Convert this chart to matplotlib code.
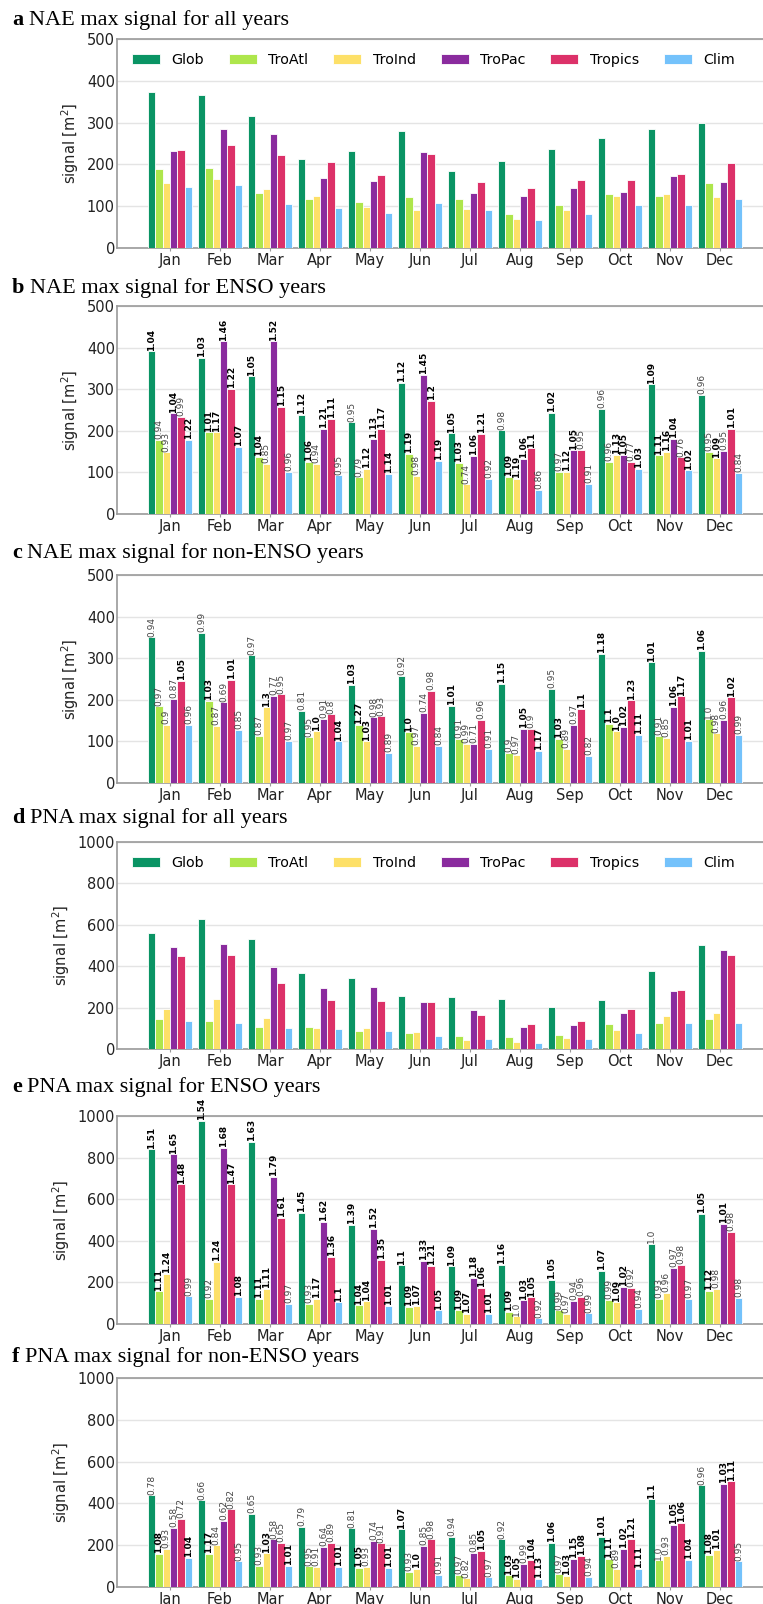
import matplotlib
matplotlib.use('Agg')
import matplotlib.pyplot as plt
import numpy as np

months = ['Jan', 'Feb', 'Mar', 'Apr', 'May', 'Jun', 'Jul', 'Aug', 'Sep', 'Oct', 'Nov', 'Dec']
regions = ['Glob', 'TroAtl', 'TroInd', 'TroPac', 'Tropics', 'Clim']
colors = ['#0a9464', '#aee64c', '#fde068', '#8a2b9e', '#dc3169', '#74c2fb']

# ---- NAE, all years (panel a) ----
nae_all = [
    [374, 365, 315, 212, 231, 280, 184, 207, 237, 264, 285, 300],
    [189, 192, 132, 118, 109, 121, 118, 81, 103, 129, 125, 155],
    [156, 166, 140, 125, 97, 92, 94, 70, 91, 124, 128, 123],
    [231, 284, 273, 167, 161, 230, 132, 124, 144, 134, 173, 159],
    [234, 246, 223, 206, 174, 226, 158, 143, 163, 162, 178, 203],
    [145, 151, 106, 96, 84, 107, 90, 68, 81, 104, 103, 118],
]
# ---- NAE, ENSO years (panel b) ----
nae_enso = [
    [391, 376, 331, 239, 220, 315, 194, 201, 243, 253, 312, 287],
    [178, 196, 138, 126, 88, 145, 123, 89, 101, 125, 141, 149],
    [148, 196, 120, 120, 109, 92, 71, 85, 102, 142, 150, 134],
    [242, 415, 415, 204, 181, 334, 140, 132, 153, 141, 181, 152],
    [234, 301, 257, 229, 204, 272, 192, 158, 155, 126, 136, 205],
    [178, 162, 102, 93, 96, 128, 84, 58, 73, 108, 105, 99],
]
nae_enso_ratio = [
    [1.04, 1.03, 1.05, 1.12, 0.95, 1.12, 1.05, 0.98, 1.02, 0.96, 1.09, 0.96],
    [0.94, 1.01, 1.04, 1.06, 0.79, 1.19, 1.03, 1.09, 0.97, 0.96, 1.11, 0.95],
    [0.93, 1.17, 0.85, 0.94, 1.12, 0.98, 0.74, 1.19, 1.12, 1.13, 1.16, 1.09],
    [1.04, 1.46, 1.52, 1.21, 1.13, 1.45, 1.06, 1.06, 1.05, 1.05, 1.04, 0.95],
    [0.99, 1.22, 1.15, 1.11, 1.17, 1.2, 1.21, 1.1, 0.95, 0.77, 0.76, 1.01],
    [1.22, 1.07, 0.96, 0.95, 1.14, 1.19, 0.92, 0.86, 0.91, 1.03, 1.02, 0.84],
]
# ---- NAE, non-ENSO years (panel c) ----
nae_nonenso = [
    [350, 361, 307, 173, 236, 258, 185, 238, 226, 310, 290, 317],
    [184, 198, 114, 110, 139, 122, 106, 72, 106, 142, 114, 153],
    [140, 138, 182, 124, 100, 89, 94, 68, 82, 124, 108, 119],
    [202, 194, 210, 154, 158, 168, 94, 130, 139, 135, 183, 152],
    [246, 248, 213, 165, 160, 222, 151, 130, 179, 199, 208, 206],
    [139, 127, 102, 100, 73, 89, 82, 78, 66, 115, 102, 116],
]
nae_nonenso_ratio = [
    [0.94, 0.99, 0.97, 0.81, 1.03, 0.92, 1.01, 1.15, 0.95, 1.18, 1.01, 1.06],
    [0.97, 1.03, 0.87, 0.95, 1.27, 1.003, 0.91, 0.9, 1.03, 1.1, 0.91, 0.998],
    [0.9, 0.87, 1.3, 1.003, 1.03, 0.97, 0.99, 0.97, 0.89, 1.003, 0.85, 0.98],
    [0.87, 0.69, 0.77, 0.91, 0.98, 0.74, 0.71, 1.05, 0.97, 1.02, 1.06, 0.96],
    [1.05, 1.01, 0.95, 0.8, 0.93, 0.98, 0.96, 0.9, 1.1, 1.23, 1.17, 1.02],
    [0.96, 0.85, 0.97, 1.04, 0.89, 0.84, 0.91, 1.17, 0.82, 1.11, 1.01, 0.99],
]
# ---- PNA, all years (panel d) ----
pna_all = [
    [560, 626, 533, 368, 343, 254, 252, 242, 201, 238, 379, 502],
    [144, 135, 108, 104, 88, 75, 61, 56, 67, 120, 127, 144],
    [194, 241, 152, 103, 103, 82, 43, 34, 53, 93, 161, 173],
    [493, 506, 395, 295, 299, 228, 188, 108, 114, 173, 279, 477],
    [451, 456, 318, 238, 230, 228, 164, 120, 136, 193, 287, 456],
    [136, 124, 100, 95, 88, 64, 47, 27, 50, 75, 124, 127],
]
# ---- PNA, ENSO years (panel e) ----
pna_enso = [
    [840, 976, 875, 536, 477, 282, 277, 285, 213, 254, 384, 528],
    [157, 120, 120, 96, 90, 82, 66, 59, 66, 117, 120, 160],
    [240, 298, 170, 120, 109, 86, 48, 37, 50, 104, 150, 168],
    [816, 846, 707, 491, 459, 304, 221, 114, 110, 178, 269, 482],
    [672, 672, 512, 323, 309, 280, 174, 128, 131, 174, 283, 442],
    [133, 131, 98, 104, 86, 66, 48, 27, 51, 72, 120, 125],
]
pna_enso_ratio = [
    [1.51, 1.54, 1.63, 1.45, 1.39, 1.1, 1.09, 1.16, 1.05, 1.07, 0.998, 1.05],
    [1.11, 0.92, 1.11, 0.93, 1.04, 1.09, 1.09, 1.09, 0.99, 0.99, 0.93, 1.12],
    [1.24, 1.24, 1.11, 1.17, 1.04, 1.07, 1.07, 0.998, 0.97, 1.09, 0.96, 0.98],
    [1.65, 1.68, 1.79, 1.62, 1.52, 1.33, 1.18, 1.03, 0.94, 1.02, 0.97, 1.01],
    [1.48, 1.47, 1.61, 1.36, 1.35, 1.21, 1.06, 1.05, 0.96, 0.92, 0.98, 0.98],
    [0.99, 1.08, 0.97, 1.1, 1.01, 1.05, 1.01, 0.92, 0.99, 0.94, 0.97, 0.98],
]
# ---- PNA, non-ENSO years (panel f) ----
pna_nonenso = [
    [438, 415, 350, 288, 280, 276, 241, 228, 212, 240, 419, 486],
    [157, 157, 102, 99, 93, 73, 59, 56, 62, 136, 128, 155],
    [181, 200, 161, 96, 96, 88, 42, 40, 53, 88, 149, 177],
    [283, 318, 228, 193, 222, 196, 165, 110, 136, 181, 296, 494],
    [326, 372, 211, 212, 209, 228, 173, 129, 149, 230, 307, 505],
    [141, 123, 101, 97, 91, 59, 46, 38, 48, 86, 131, 123],
]
pna_nonenso_ratio = [
    [0.78, 0.66, 0.65, 0.79, 0.81, 1.07, 0.94, 0.92, 1.06, 1.01, 1.1, 0.96],
    [1.08, 1.17, 0.93, 0.95, 1.05, 0.93, 0.97, 1.03, 0.97, 1.11, 0.998, 1.08],
    [0.93, 0.84, 1.03, 0.91, 0.93, 1.003, 0.82, 1.05, 1.03, 0.89, 0.93, 1.01],
    [0.58, 0.62, 0.58, 0.64, 0.74, 0.85, 0.85, 0.99, 1.15, 1.02, 1.05, 1.03],
    [0.72, 0.82, 0.65, 0.89, 0.91, 0.98, 1.05, 1.04, 1.08, 1.21, 1.06, 1.11],
    [1.04, 0.95, 1.01, 1.01, 1.01, 0.91, 0.97, 1.13, 0.94, 1.11, 1.04, 0.95],
]

panel_letters = ['a', 'b', 'c', 'd', 'e', 'f']
panel_titles = ['NAE max signal for all years', 'NAE max signal for ENSO years',
                'NAE max signal for non-ENSO years', 'PNA max signal for all years',
                'PNA max signal for ENSO years', 'PNA max signal for non-ENSO years']
panel_data = [nae_all, nae_enso, nae_nonenso, pna_all, pna_enso, pna_nonenso]
panel_ratios = [None, nae_enso_ratio, nae_nonenso_ratio, None, pna_enso_ratio, pna_nonenso_ratio]
panel_ymax = [500, 500, 500, 1000, 1000, 1000]
panel_ystep = [100, 100, 100, 200, 200, 200]

W, H = 763, 1604
fig = plt.figure(figsize=(W / 100, H / 100), dpi=100)

# pixel layout (top, bottom) of each axes and title baseline
ax_px = [(39, 248), (306, 514), (575, 783), (842, 1049), (1116, 1324), (1378, 1587)]
title_base = [25, 293, 558, 823, 1092, 1362]
left_px = 117

x = np.arange(len(months))
bw = 0.148

for k in range(6):
    top, bot = ax_px[k]
    ax = fig.add_axes([left_px / W, 1 - bot / H, 1 - left_px / W, (bot - top) / H])
    data = panel_data[k]
    ratios = panel_ratios[k]
    for i, (reg, col) in enumerate(zip(regions, colors)):
        xs = x + (i - 2.5) * bw
        bars = ax.bar(xs, data[i], width=bw, color=col, edgecolor='white',
                      linewidth=0.6, label=reg, zorder=3)
        if ratios is not None:
            for b, r in zip(bars, ratios[i]):
                bold = r > 1
                ax.annotate(str(round(r, 2)), xy=(b.get_x() + b.get_width() / 2, b.get_height()),
                            xytext=(0, 0.5), textcoords='offset points',
                            rotation=90, ha='center', va='bottom', fontsize=6.5,
                            fontweight='bold' if bold else 'normal',
                            color='black' if bold else '#444444', zorder=4)
    ax.set_xlim(-1.06, 11.86)
    ax.set_ylim(0, panel_ymax[k])
    ax.set_yticks(np.arange(0, panel_ymax[k] + 1, panel_ystep[k]))
    ax.set_xticks(x)
    ax.set_xticklabels(months)
    ax.tick_params(axis='y', length=0, pad=1.5, labelsize=10.5, colors='#222222')
    ax.tick_params(axis='x', length=2.5, pad=1, labelsize=10.5, colors='#222222', color='#999999')
    ax.grid(axis='y', color='#e4e4e4', linewidth=1.0, zorder=0)
    ax.set_axisbelow(True)
    for s in ['left', 'bottom', 'top']:
        ax.spines[s].set_color('#9a9a9a')
        ax.spines[s].set_linewidth(1.2)
    ax.spines['right'].set_visible(False)
    ax.set_ylabel('signal [m$^2$]', fontsize=10.5, color='#222222', labelpad=4)
    if ratios is None:
        ax.legend(loc='upper center', bbox_to_anchor=(0.49, 1.0), ncol=6, frameon=False,
                  fontsize=10.3, handlelength=1.95, handletextpad=0.8, columnspacing=1.75,
                  borderaxespad=0.6)
    # panel title
    t1 = fig.text(12 / W, 1 - title_base[k] / H, panel_letters[k], fontsize=16,
                  fontweight='bold', family='Liberation Serif', va='baseline', ha='left')
    ax.annotate(panel_titles[k], xy=(1, 0), xycoords=t1, xytext=(4, 0),
                textcoords='offset points', fontsize=16, family='Liberation Serif',
                va='bottom', ha='left', annotation_clip=False)

fig.savefig('out.png', dpi=100)
